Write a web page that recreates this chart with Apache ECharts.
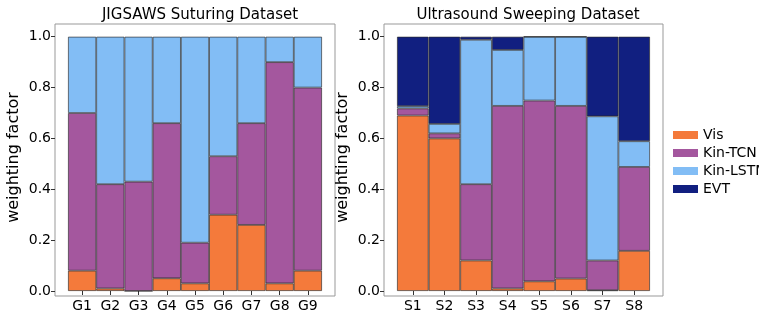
<!DOCTYPE html>
<html>
<head>
<meta charset="utf-8">
<script src="https://cdn.jsdelivr.net/npm/echarts@6/dist/echarts.min.js"></script>
<style>
    html, body { margin: 0; padding: 0; background: #fff; }
    #chart { width: 759px; height: 313px; }
</style>
</head>
<body>
<div id="chart"></div>
<script>
// left panel: JIGSAWS
var jigCats = ['G1', 'G2', 'G3', 'G4', 'G5', 'G6', 'G7', 'G8', 'G9'];
var jigVis = [0.08, 0.01, 0.00, 0.05, 0.03, 0.30, 0.26, 0.03, 0.08];
var jigTcn = [0.62, 0.41, 0.43, 0.61, 0.16, 0.23, 0.40, 0.87, 0.72];
var jigLstm = [0.30, 0.58, 0.57, 0.34, 0.81, 0.47, 0.34, 0.10, 0.20];

// right panel: ultrasound
var usCats = ['S1', 'S2', 'S3', 'S4', 'S5', 'S6', 'S7', 'S8'];
var usVis = [0.690, 0.600, 0.120, 0.010, 0.038, 0.049, 0.003, 0.158];
var usTcn = [0.028, 0.020, 0.300, 0.718, 0.711, 0.679, 0.117, 0.330];
var usLstm = [0.009, 0.037, 0.568, 0.220, 0.251, 0.272, 0.567, 0.101];
var usEvt = [0.273, 0.343, 0.012, 0.052, 0.000, 0.000, 0.313, 0.411];

var yTicks = [0, 0.2, 0.4, 0.6, 0.8, 1.0];
var names = ['Vis', 'Kin-TCN', 'Kin-LSTM', 'EVT'];
var colors = ['#f47a3b', '#a4579e', '#82bdf5', '#111f80'];

var font = 'DejaVu Sans';

function xAxis(idx, cats) {
    return {
        type: 'category', gridIndex: idx, data: cats,
        axisLine: { show: false },
        axisTick: { show: true, alignWithLabel: true, length: 4, lineStyle: { color: '#333' } },
        axisLabel: { color: '#000', fontFamily: font, fontSize: 14, margin: 8 }
    };
}

function yAxis(idx) {
    return {
        type: 'value', gridIndex: idx, min: 0, max: 1.05, interval: 0.2,
        offset: 13,
        name: 'weighting factor', nameLocation: 'middle', nameGap: 33,
        nameTextStyle: { color: '#000', fontFamily: font, fontSize: 16 },
        splitLine: { show: false },
        axisLine: { show: false },
        axisTick: { show: true, length: 4, customValues: yTicks, lineStyle: { color: '#333' } },
        axisLabel: {
            color: '#000', fontFamily: font, fontSize: 14, margin: 4,
            customValues: yTicks,
            formatter: function (v) { return v.toFixed(1); }
        }
    };
}

function bar(name, data, idx, stack) {
    return {
        type: 'bar', name: name, data: data, stack: stack,
        xAxisIndex: idx, yAxisIndex: idx,
        barCategoryGap: '0%',
        itemStyle: { color: colors[names.indexOf(name)], borderColor: 'rgba(40,40,40,0.8)', borderWidth: 0.8 },
        emphasis: { disabled: true }
    };
}

var chart = echarts.init(document.getElementById('chart'));
chart.setOption({
    animation: false,
    title: [
        { text: 'JIGSAWS Suturing Dataset', left: 195, top: 3, textAlign: 'center',
          textStyle: { fontFamily: font, fontSize: 15, fontWeight: 'normal', color: '#000' } },
        { text: 'Ultrasound Sweeping Dataset', left: 523, top: 3, textAlign: 'center',
          textStyle: { fontFamily: font, fontSize: 15, fontWeight: 'normal', color: '#000' } }
    ],
    legend: {
        data: names, orient: 'vertical', left: 668, top: 122,
        icon: 'rect', itemWidth: 25, itemHeight: 8, itemGap: 2,
        itemStyle: { borderWidth: 0 },
        textStyle: { fontFamily: font, fontSize: 14, color: '#000', lineHeight: 16 }
    },
    grid: [
        { left: 68, top: 24, width: 254, height: 272 },
        { left: 397, top: 24, width: 253, height: 272 },
        { left: 55, top: 24, width: 280, height: 272, show: true, borderColor: '#999', borderWidth: 1 },
        { left: 384, top: 24, width: 279, height: 272, show: true, borderColor: '#999', borderWidth: 1 }
    ],
    xAxis: [xAxis(0, jigCats), xAxis(1, usCats)],
    yAxis: [yAxis(0), yAxis(1)],
    series: [
        bar('Vis', jigVis, 0, 'jig'),
        bar('Kin-TCN', jigTcn, 0, 'jig'),
        bar('Kin-LSTM', jigLstm, 0, 'jig'),
        bar('Vis', usVis, 1, 'us'),
        bar('Kin-TCN', usTcn, 1, 'us'),
        bar('Kin-LSTM', usLstm, 1, 'us'),
        bar('EVT', usEvt, 1, 'us')
    ]
});
</script>
</body>
</html>
